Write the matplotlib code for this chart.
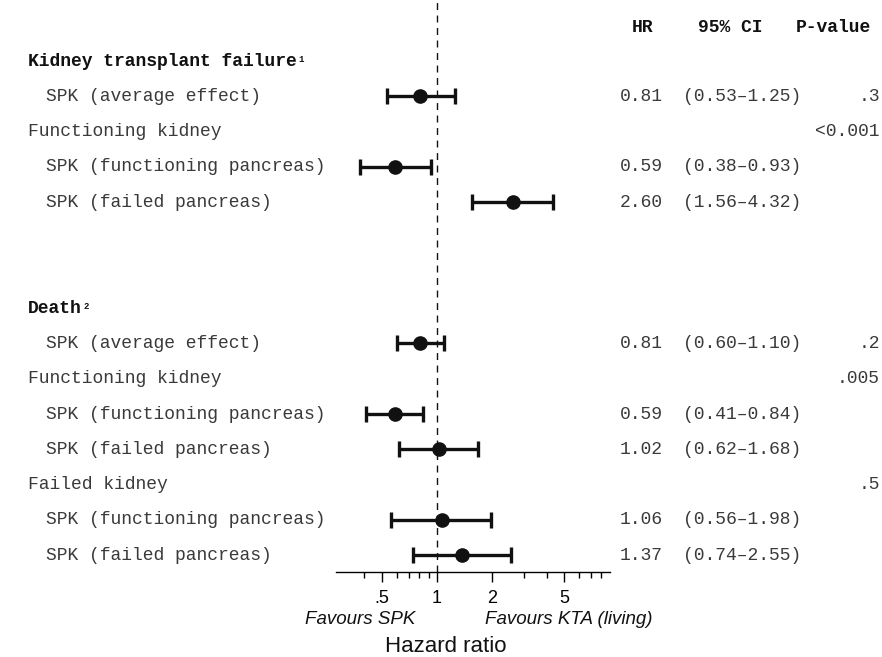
import numpy as np
import matplotlib
matplotlib.use("Agg")
import matplotlib.pyplot as plt
from matplotlib import transforms

W, H = 882, 657

row_labels = ["Kidney transplant failure", "SPK (average effect)", "Functioning kidney",
              "SPK (functioning pancreas)", "SPK (failed pancreas)", "", "",
              "Death", "SPK (average effect)", "Functioning kidney",
              "SPK (functioning pancreas)", "SPK (failed pancreas)", "Failed kidney",
              "SPK (functioning pancreas)", "SPK (failed pancreas)"]
row_kind = ["head", "item", "group", "item", "item", "", "",
            "head", "item", "group", "item", "item", "group", "item", "item"]
hr = [np.nan, 0.81, np.nan, 0.59, 2.60, np.nan, np.nan,
      np.nan, 0.81, np.nan, 0.59, 1.02, np.nan, 1.06, 1.37]
ci_lo = [np.nan, 0.53, np.nan, 0.38, 1.56, np.nan, np.nan,
         np.nan, 0.60, np.nan, 0.41, 0.62, np.nan, 0.56, 0.74]
ci_hi = [np.nan, 1.25, np.nan, 0.93, 4.32, np.nan, np.nan,
         np.nan, 1.10, np.nan, 0.84, 1.68, np.nan, 1.98, 2.55]
pvals = ["", ".3", "<0.001", "", "", "", "",
         "", ".2", ".005", "", "", ".5", "", ""]
footnotes = {0: "1", 7: "2"}

col_headers = ["HR", "95% CI", "P-value"]
tick_vals = [0.5, 1, 2, 5]
tick_labels = [".5", "1", "2", "5"]
minor_vals = [0.4, 0.6, 0.7, 0.8, 0.9, 3, 4, 6, 7, 8]

MONO = "Liberation Mono"
SANS = "Liberation Sans"
INK = "#111111"
TXT = "#3a3a3a"

fig = plt.figure(figsize=(W / 100, H / 100), dpi=100)

# forest panel: pixel box x 336..610, y 0..572
ax_l, ax_r, ax_b = 336, 610, 572.3
ax = fig.add_axes([ax_l / W, (H - ax_b) / H, (ax_r - ax_l) / W, ax_b / H])
ax.set_xscale("log")
ax.set_xlim(0.279, 8.92)
row0, step = 61, 35.3
ax.set_ylim((ax_b - row0) / step, -row0 / step)

rows = np.arange(len(row_labels))
hr_a = np.array(hr)
lo_a = np.array(ci_lo)
hi_a = np.array(ci_hi)
ok = ~np.isnan(hr_a)

ax.axvline(1, color=INK, lw=1, ls=(0, (5, 4)), zorder=1)
ax.errorbar(hr_a[ok], rows[ok], xerr=[hr_a[ok] - lo_a[ok], hi_a[ok] - hr_a[ok]],
            fmt="o", color=INK, ms=9.5, elinewidth=2.4, capsize=6, capthick=2.4, zorder=3)

for s in ["top", "right", "left"]:
    ax.spines[s].set_visible(False)
ax.spines["bottom"].set_linewidth(1)
ax.set_yticks([])
ax.set_xticks(tick_vals)
ax.set_xticklabels(tick_labels, fontfamily=SANS, fontsize=13)
ax.set_xticks(minor_vals, minor=True)
ax.xaxis.set_minor_formatter(matplotlib.ticker.NullFormatter())
ax.tick_params(axis="x", which="major", length=7, width=1, pad=6)
ax.tick_params(axis="x", which="minor", length=4, width=1)
ax.patch.set_visible(False)

tr = transforms.blended_transform_factory(fig.transFigure, ax.transData)

def fx(p):
    return p / W

# column headers
hdr_x = [632, 698, 796]
for x, t in zip(hdr_x, col_headers):
    fig.text(fx(x), 1 - 27 / H, t, fontfamily=MONO, fontweight="bold", fontsize=13,
             color=INK, ha="left", va="center")

for i, lab in enumerate(row_labels):
    kind = row_kind[i]
    if kind == "head":
        t = ax.text(fx(28), i, lab, transform=tr, fontfamily=MONO, fontweight="bold",
                    fontsize=13, color=INK, ha="left", va="center", clip_on=False)
        if i in footnotes:
            ax.annotate(footnotes[i], xy=(1, 1), xycoords=t, xytext=(1, -2),
                        textcoords="offset points", fontfamily=MONO, fontweight="bold",
                        fontsize=6.5, color=INK, ha="left", va="top", annotation_clip=False)
    elif kind == "group":
        ax.text(fx(28), i, lab, transform=tr, fontfamily=MONO, fontsize=13, color=TXT,
                ha="left", va="center", clip_on=False)
    elif kind == "item":
        ax.text(fx(46), i, lab, transform=tr, fontfamily=MONO, fontsize=13, color=TXT,
                ha="left", va="center", clip_on=False)
    if ok[i]:
        ax.text(fx(620), i, f"{hr[i]:.2f}", transform=tr, fontfamily=MONO, fontsize=13,
                color=TXT, ha="left", va="center", clip_on=False)
        ax.text(fx(683), i, f"({ci_lo[i]:.2f}\u2013{ci_hi[i]:.2f})", transform=tr,
                fontfamily=MONO, fontsize=13, color=TXT, ha="left", va="center", clip_on=False)
    if pvals[i]:
        ax.text(fx(880), i, pvals[i], transform=tr, fontfamily=MONO, fontsize=13,
                color=TXT, ha="right", va="center", clip_on=False)

fig.text(fx(415), 1 - 620 / H, "Favours SPK", fontfamily=SANS, fontstyle="italic",
         fontsize=13.5, color=INK, ha="right", va="center")
fig.text(fx(485), 1 - 620 / H, "Favours KTA (living)", fontfamily=SANS, fontstyle="italic",
         fontsize=13.5, color=INK, ha="left", va="center")
fig.text(fx(446), 1 - 647 / H, "Hazard ratio", fontfamily=SANS, fontsize=16,
         color=INK, ha="center", va="center")

fig.savefig("out.png", dpi=100, facecolor="white")
